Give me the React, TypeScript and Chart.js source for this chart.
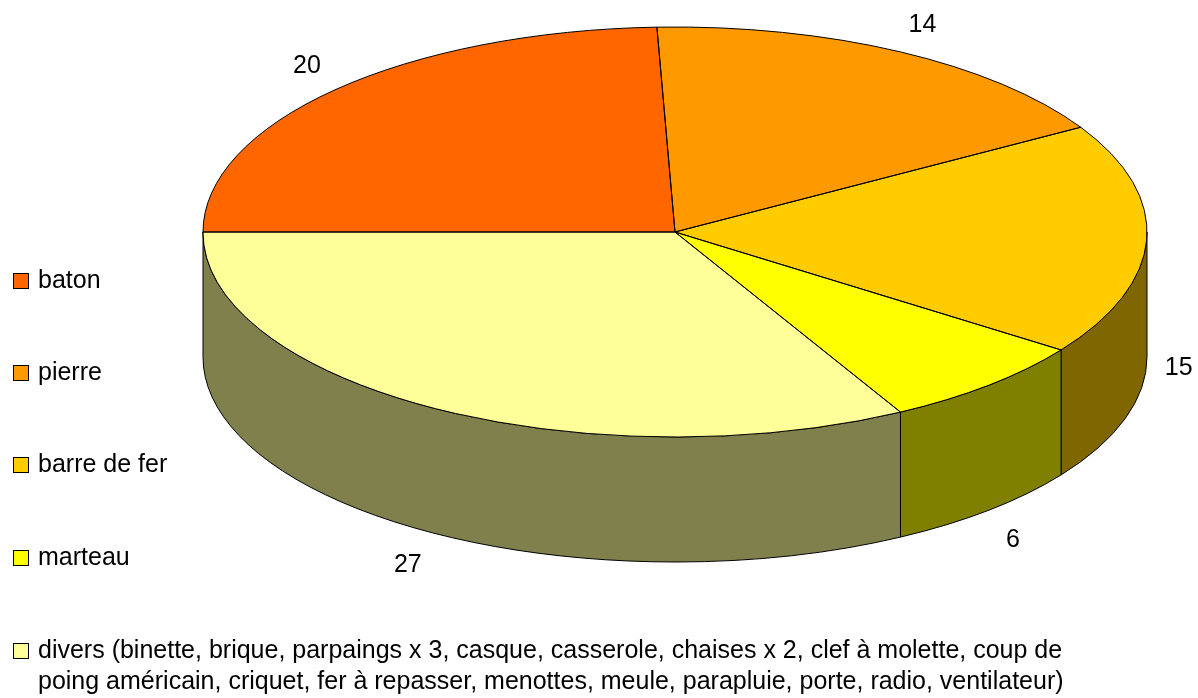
import { useEffect, useRef } from "react";
import { Chart, ArcElement, PieController } from "chart.js";

Chart.register(ArcElement, PieController);

const categories = ["baton", "pierre", "barre de fer", "marteau"];
const lastCategoryLines = [
  "divers (binette, brique, parpaings x 3, casque, casserole, chaises x 2, clef à molette, coup de",
  "poing américain, criquet, fer à repasser, menottes, meule, parapluie, porte, radio, ventilateur)",
];
const values = [20, 14, 15, 6, 27];
const topColors = ["#FF6600", "#FF9900", "#FFCC00", "#FFFF00", "#FFFF99"];
const sideColors = ["#803300", "#804D00", "#806600", "#808000", "#80804D"];
const labelNudges = [[-28, -24], [22, -27], [32, 3], [24, 30], [-26, 32]];
const legendRows = [281, 373, 465, 558, 651];

const WIDTH = 1198;
const HEIGHT = 698;
const RX = 472;
const DEPTH = 125;
const FONT = '25px "Liberation Sans", Arial, sans-serif';

const pie3d = {
  id: "pie3d",
  beforeDatasetsDraw(chart: any) {
    const { ctx } = chart;
    const arcs = chart.getDatasetMeta(0).data;
    const { x: cx, y: cy, outerRadius: r } = arcs[0];
    const sx = RX / r;
    ctx.save();
    // side wall, drawn from each slice's own angles, clipped to the visible lower half
    arcs.forEach((a: any, i: number) => {
      const s = Math.max(a.startAngle, 0) ;
      const e = Math.min(a.endAngle, Math.PI);
      const ranges: [number, number][] = [];
      if (e > s) ranges.push([s, e]);
      const s2 = Math.max(a.startAngle, 2 * Math.PI);
      const e2 = Math.min(a.endAngle, 3 * Math.PI);
      if (e2 > s2) ranges.push([s2, e2]);
      ranges.forEach(([p, q]) => {
        ctx.beginPath();
        ctx.moveTo(cx + RX * Math.cos(p), cy + r * Math.sin(p));
        ctx.ellipse(cx, cy, RX, r, 0, p, q);
        ctx.lineTo(cx + RX * Math.cos(q), cy + r * Math.sin(q) + DEPTH);
        ctx.ellipse(cx, cy + DEPTH, RX, r, 0, q, p, true);
        ctx.closePath();
        ctx.fillStyle = sideColors[i];
        ctx.fill();
        ctx.strokeStyle = "#000";
        ctx.lineWidth = 1;
        ctx.stroke();
      });
    });
    ctx.restore();
    // squash the pie horizontally stretched into an ellipse for the library's own arcs
    ctx.save();
    ctx.translate(cx, cy);
    ctx.scale(sx, 1);
    ctx.translate(-cx, -cy);
  },
  afterDatasetsDraw(chart: any) {
    const { ctx } = chart;
    ctx.restore();
    const arcs = chart.getDatasetMeta(0).data;
    const { x: cx, y: cy, outerRadius: r } = arcs[0];
    ctx.save();
    ctx.strokeStyle = "#000";
    ctx.lineWidth = 1;
    arcs.forEach((a: any) => {
      ctx.beginPath();
      ctx.moveTo(cx, cy);
      ctx.ellipse(cx, cy, RX, r, 0, a.startAngle, a.endAngle);
      ctx.closePath();
      ctx.stroke();
    });
    // value labels
    ctx.fillStyle = "#000";
    ctx.font = FONT;
    ctx.textAlign = "center";
    ctx.textBaseline = "middle";
    arcs.forEach((a: any, i: number) => {
      const mid = (a.startAngle + a.endAngle) / 2;
      const px = cx + RX * Math.cos(mid);
      const py = cy + r * Math.sin(mid);
      const lower = Math.sin(mid) > -0.05 ? DEPTH : 0;
      ctx.fillText(String(values[i]), px + labelNudges[i][0], py + lower + labelNudges[i][1]);
    });
    // legend
    ctx.textAlign = "left";
    const swatch = (y: number, c: string) => {
      ctx.fillStyle = c;
      ctx.fillRect(13, y - 8, 16, 16);
      ctx.strokeRect(13.5, y - 7.5, 15, 15);
      ctx.fillStyle = "#000";
    };
    categories.forEach((c, i) => {
      swatch(legendRows[i], topColors[i]);
      ctx.fillText(c, 38, legendRows[i]);
    });
    swatch(legendRows[4], topColors[4]);
    lastCategoryLines.forEach((t, i) => ctx.fillText(t, 38, legendRows[4] + i * 31));
    ctx.restore();
  },
};

export default function App() {
  const ref = useRef<HTMLCanvasElement>(null);
  useEffect(() => {
    document.body.style.margin = "0";
    document.body.style.background = "#fff";
    const chart = new Chart(ref.current!, {
      type: "pie",
      data: {
        labels: [...categories, lastCategoryLines.join(" ")],
        datasets: [{ data: values, backgroundColor: topColors, borderWidth: 0 }],
      },
      options: {
        animation: false,
        responsive: false,
        rotation: -90,
        layout: { padding: { left: 203, right: WIDTH - 1147, top: 27, bottom: HEIGHT - 437 } },
        plugins: { legend: { display: false }, tooltip: { enabled: false } },
      },
      plugins: [pie3d],
    });
    return () => chart.destroy();
  }, []);
  return <canvas ref={ref} width={WIDTH} height={HEIGHT} style={{ display: "block" }} />;
}
